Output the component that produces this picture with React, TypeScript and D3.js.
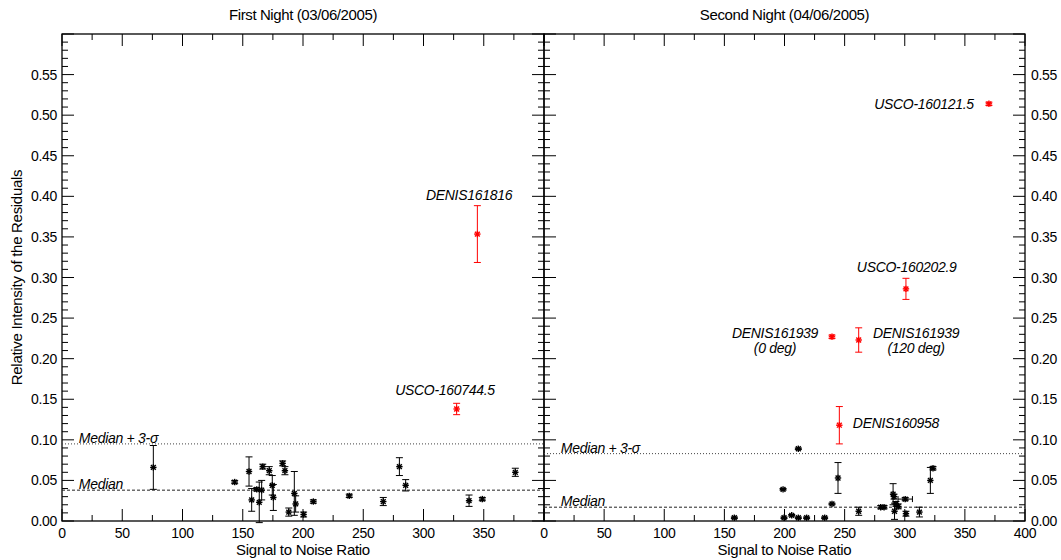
import React from "react";
import * as d3 from "d3";

// ---------- data ----------
const night1SNR = [75.8, 143.3, 155.2, 157.4, 161.6, 163.7, 165.7, 166.6, 172, 174.5, 175.4, 183.1, 185, 192.8, 193.9, 188.2, 200.5, 208.6, 238.4, 266.6, 280, 285.2, 337.8, 348.8, 376.2];
const night1Val = [0.066, 0.048, 0.061, 0.026, 0.039, 0.023, 0.038, 0.067, 0.062, 0.044, 0.029, 0.071, 0.062, 0.034, 0.021, 0.011, 0.008, 0.024, 0.031, 0.024, 0.067, 0.044, 0.025, 0.027, 0.060];
const night1Err = [0.027, 0.002, 0.018, 0.014, 0.002, 0.025, 0.012, 0.003, 0.005, 0.012, 0.016, 0.003, 0.005, 0.027, 0.010, 0.005, 0.003, 0.002, 0.002, 0.005, 0.011, 0.007, 0.007, 0.002, 0.005];
const night1RedSNR = [327.5, 344.7];
const night1RedVal = [0.138, 0.3535];
const night1RedErr = [0.007, 0.035];

const night2SNR = [158.3, 198.8, 199.6, 206, 211.5, 211.5, 218.4, 233.4, 239.5, 244.5, 261.7, 280, 282.8, 290.3, 291.1, 291.5, 292.7, 294.6, 300.4, 301, 312.2, 321.3, 323.5];
const night2Val = [0.004, 0.039, 0.004, 0.007, 0.089, 0.004, 0.004, 0.004, 0.021, 0.053, 0.012, 0.017, 0.017, 0.033, 0.030, 0.012, 0.021, 0.018, 0.027, 0.009, 0.011, 0.050, 0.065];
const night2Err = [0.001, 0.001, 0.001, 0.001, 0.001, 0.001, 0.001, 0.001, 0.001, 0.019, 0.005, 0.002, 0.002, 0.013, 0.003, 0.010, 0.003, 0.003, 0.002, 0.003, 0.006, 0.016, 0.002];
const night2XErr = [0, 0, 0, 0, 0, 0, 0, 0, 0, 0, 0, 0, 0, 0, 0, 0, 0, 0, 6, 0, 0, 0, 0];
const night2RedSNR = [245.6, 239.5, 261.7, 301, 370];
const night2RedVal = [0.118, 0.227, 0.223, 0.286, 0.514];
const night2RedErr = [0.023, 0.002, 0.015, 0.013, 0.002];

const medians = [0.038, 0.017];
const medians3s = [0.095, 0.083];
const titles = ["First Night (03/06/2005)", "Second Night (04/06/2005)"];
const yTickLabels = ["0.00", "0.05", "0.10", "0.15", "0.20", "0.25", "0.30", "0.35", "0.40", "0.45", "0.50", "0.55"];

// annotations: [text lines, anchor SNR, anchor value]
const annot1 = [
  { lines: ["DENIS161816"], x: 337.8, y: 0.3955 },
  { lines: ["USCO-160744.5"], x: 317.8, y: 0.1552 },
];
const annot2 = [
  { lines: ["USCO-160121.5"], x: 316, y: 0.5076 },
  { lines: ["USCO-160202.9"], x: 301.6, y: 0.3068 },
  { lines: ["DENIS161939", "(0 deg)"], x: 192.1, y: 0.2255 },
  { lines: ["DENIS161939", "(120 deg)"], x: 309.4, y: 0.2255 },
  { lines: ["DENIS160958"], x: 292.7, y: 0.1146 },
];

// ---------- layout ----------
const W = 1061, H = 560;
const top = 34, bottom = 521;
const FONT = "'Liberation Sans', Arial, Helvetica, sans-serif";

function Marker({ cx, cy, color }) {
  const r = 3.2;
  const d = r * 0.75;
  return (
    <g stroke={color} strokeWidth={1.4}>
      <line x1={cx - r} y1={cy} x2={cx + r} y2={cy} />
      <line x1={cx} y1={cy - r} x2={cx} y2={cy + r} />
      <line x1={cx - d} y1={cy - d} x2={cx + d} y2={cy + d} />
      <line x1={cx - d} y1={cy + d} x2={cx + d} y2={cy - d} />
    </g>
  );
}

function Points({ xs, vs, es, xes, color, x, y }) {
  const cap = 3.5;
  return (
    <g>
      {xs.map((s, i) => {
        const cx = x(s), cy = y(vs[i]);
        const y1 = y(vs[i] + es[i]), y2 = y(vs[i] - es[i]);
        const xe = xes ? xes[i] : 0;
        return (
          <g key={i}>
            <g stroke={color} strokeWidth={1}>
              <line x1={cx} y1={y1} x2={cx} y2={y2} />
              <line x1={cx - cap} y1={y1} x2={cx + cap} y2={y1} />
              <line x1={cx - cap} y1={y2} x2={cx + cap} y2={y2} />
              {xe > 0 && (
                <>
                  <line x1={x(s - xe)} y1={cy} x2={x(s + xe)} y2={cy} />
                  <line x1={x(s - xe)} y1={cy - 3} x2={x(s - xe)} y2={cy + 3} />
                  <line x1={x(s + xe)} y1={cy - 3} x2={x(s + xe)} y2={cy + 3} />
                </>
              )}
            </g>
            <Marker cx={cx} cy={cy} color={color} />
          </g>
        );
      })}
    </g>
  );
}

function Panel({ x, y, idx, black, red, annots, xLabelMax }) {
  const [x0, x1] = x.range();
  const xMinor = d3.range(0, 401, 25);
  const yMinor = d3.range(0, 0.6001, 0.01);
  const cx = (x0 + x1) / 2;
  const med = medians[idx], med3 = medians3s[idx];
  return (
    <g>
      <rect x={x0} y={top} width={x1 - x0} height={bottom - top} fill="none" stroke="#000" strokeWidth={1.3} />
      {/* x ticks bottom & top */}
      {xMinor.map((v) => {
        const major = v % 50 === 0;
        const len = major ? 12 : 6;
        const px = x(v);
        return (
          <g key={"x" + v} stroke="#000" strokeWidth={1}>
            <line x1={px} y1={bottom} x2={px} y2={bottom - len} />
            <line x1={px} y1={top} x2={px} y2={top + len} />
          </g>
        );
      })}
      {/* y ticks left & right */}
      {yMinor.map((v, i) => {
        const major = i % 5 === 0;
        const len = major ? 12 : 6;
        const py = y(v);
        return (
          <g key={"y" + i} stroke="#000" strokeWidth={1}>
            <line x1={x0} y1={py} x2={x0 + len} y2={py} />
            <line x1={x1} y1={py} x2={x1 - len} y2={py} />
          </g>
        );
      })}
      {/* x tick labels */}
      {d3.range(0, xLabelMax + 1, 50).map((v) => (
        <text key={"xl" + v} x={x(v)} y={bottom + 17} textAnchor="middle" fontSize={14} fontFamily={FONT} letterSpacing={-0.3}>
          {v}
        </text>
      ))}
      <text x={cx} y={bottom + 34} textAnchor="middle" fontSize={15} fontFamily={FONT} letterSpacing={-0.3}>
        Signal to Noise Ratio
      </text>
      <text x={cx} y={20} textAnchor="middle" fontSize={15} fontFamily={FONT} letterSpacing={-0.4}>
        {titles[idx]}
      </text>
      {/* median lines */}
      <line x1={x0} x2={x1} y1={y(med3)} y2={y(med3)} stroke="#444" strokeWidth={1} strokeDasharray="1,2" />
      <line x1={x0} x2={x1} y1={y(med)} y2={y(med)} stroke="#222" strokeWidth={1} strokeDasharray="3,2" />
      <text x={x(14)} y={y(med3) - 1} fontSize={14} fontStyle="italic" fontFamily={FONT} letterSpacing={-0.3}>
        Median + 3-σ
      </text>
      <text x={x(14)} y={y(med) - 1} fontSize={14} fontStyle="italic" fontFamily={FONT} letterSpacing={-0.3}>
        Median
      </text>
      <Points {...black} color="#000" x={x} y={y} />
      <Points {...red} color="#ff0000" x={x} y={y} />
      {annots.map((a, i) => (
        <text key={"a" + i} x={x(a.x)} y={y(a.y)} textAnchor="middle" fontSize={14} fontStyle="italic" fontFamily={FONT} letterSpacing={-0.3}>
          {a.lines.map((l, j) => (
            <tspan key={j} x={x(a.x)} dy={j === 0 ? 0 : 15}>
              {l}
            </tspan>
          ))}
        </text>
      ))}
    </g>
  );
}

export default function App() {
  const y = d3.scaleLinear([0, 0.6], [bottom, top]);
  const xA = d3.scaleLinear([0, 400], [62, 544]);
  const xB = d3.scaleLinear([0, 400], [544, 1025]);
  const yMajors = d3.range(0, 12).map((i) => i * 0.05);
  return (
    <svg width={W} height={H} style={{ position: "absolute", left: 0, top: 0, background: "#fff" }}>
      <rect width={W} height={H} fill="#fff" />
      <Panel
        x={xA}
        y={y}
        idx={0}
        xLabelMax={350}
        black={{ xs: night1SNR, vs: night1Val, es: night1Err }}
        red={{ xs: night1RedSNR, vs: night1RedVal, es: night1RedErr }}
        annots={annot1}
      />
      <Panel
        x={xB}
        y={y}
        idx={1}
        xLabelMax={400}
        black={{ xs: night2SNR, vs: night2Val, es: night2Err, xes: night2XErr }}
        red={{ xs: night2RedSNR, vs: night2RedVal, es: night2RedErr }}
        annots={annot2}
      />
      {yMajors.map((v, i) => (
        <g key={i} fontSize={14} fontFamily={FONT} letterSpacing={-0.3}>
          <text x={57} y={y(v) + 5} textAnchor="end">{yTickLabels[i]}</text>
          <text x={1031} y={y(v) + 5} textAnchor="start">{yTickLabels[i]}</text>
        </g>
      ))}
      <text
        transform={`translate(22,${(top + bottom) / 2}) rotate(-90)`}
        textAnchor="middle"
        fontSize={15}
        fontFamily={FONT}
        letterSpacing={-0.3}
      >
        Relative Intensity of the Residuals
      </text>
    </svg>
  );
}
